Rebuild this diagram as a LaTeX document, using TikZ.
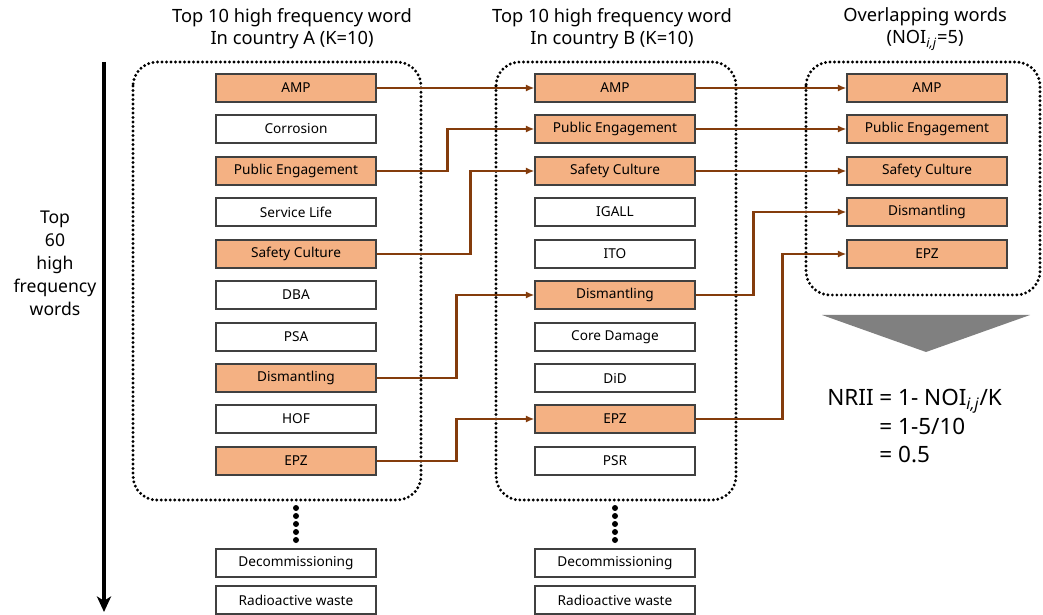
\documentclass[tikz,border=0pt]{standalone}
\usepackage{fontspec}
\setmainfont{Noto Sans}
\usetikzlibrary{arrows.meta,positioning}
\definecolor{wordfill}{HTML}{F4B183}
\definecolor{linkbrown}{HTML}{843C0C}
\definecolor{boxline}{HTML}{404040}
\tikzset{
    word/.style={draw=boxline, line width=0.8pt, minimum width=4cm, minimum height=0.7cm,
        inner sep=0pt, font=\fontsize{9.7}{10}\selectfont},
    hit/.style={word, fill=wordfill},
    miss/.style={word, fill=white},
    group/.style={draw=black, line width=2.3pt, line cap=round, dash pattern=on 0pt off 3.2pt,
        rounded corners=0.6cm},
    link/.style={draw=linkbrown, line width=1.8pt, -{Latex[length=6pt,width=5pt]}},
    title/.style={align=center, font=\fontsize{13}{15.5}\selectfont},
}

\begin{document}
\begin{tikzpicture}[x=0.025cm,y=-0.025cm]
    \useasboundingbox (0,0) rectangle (1043,615);
    % dotted groups
    \draw[group] (133,62) rectangle (421,500);
    \draw[group] (496,62) rectangle (736,500);
    \draw[group] (806,62) rectangle (1040,295);
    % titles
    \node[title] (ta) at (292,29) {Top 10 high frequency word\\In country A (K=10)};
    \node[title] (tb) at (612,29) {Top 10 high frequency word\\In country B (K=10)};
    \node[title] (tc) at (925,29) {Overlapping words\\(NOI\textsubscript{\textit{i,j}}=5)};
    % main axis
    \draw[line width=2.2pt, -{Stealth[length=11pt,width=10pt,inset=3pt]}] (104,62) -- (104,612);
    \node[align=center, font=\fontsize{12.5}{16.3}\selectfont] (axis) at (55,263)
        {Top\\60\\high\\frequency\\words};
    % country A
    \node[hit]  (a1)  at (296,88)  {AMP};
    \node[miss] (a2)  at (296,129) {Corrosion};
    \node[hit]  (a3)  at (296,171) {Public Engagement};
    \node[miss] (a4)  at (296,212) {Service Life};
    \node[hit]  (a5)  at (296,254) {Safety Culture};
    \node[miss] (a6)  at (296,295) {DBA};
    \node[miss] (a7)  at (296,337) {PSA};
    \node[hit]  (a8)  at (296,378) {Dismantling};
    \node[miss] (a9)  at (296,419) {HOF};
    \node[hit]  (a10) at (296,461) {EPZ};
    \node[miss] (a11) at (296,563) {Decommissioning};
    \node[miss] (a12) at (296,600) {Radioactive waste};
    % country B
    \node[hit]  (b1)  at (615,88)  {AMP};
    \node[hit]  (b2)  at (615,129) {Public Engagement};
    \node[hit]  (b3)  at (615,171) {Safety Culture};
    \node[miss] (b4)  at (615,212) {IGALL};
    \node[miss] (b5)  at (615,254) {ITO};
    \node[hit]  (b6)  at (615,295) {Dismantling};
    \node[miss] (b7)  at (615,337) {Core Damage};
    \node[miss] (b8)  at (615,378) {DiD};
    \node[hit]  (b9)  at (615,419) {EPZ};
    \node[miss] (b10) at (615,461) {PSR};
    \node[miss] (b11) at (615,563) {Decommissioning};
    \node[miss] (b12) at (615,600) {Radioactive waste};
    % overlapping
    \node[hit] (c1) at (927,88)  {AMP};
    \node[hit] (c2) at (927,129) {Public Engagement};
    \node[hit] (c3) at (927,171) {Safety Culture};
    \node[hit] (c4) at (927,212) {Dismantling};
    \node[hit] (c5) at (927,254) {EPZ};
    % more words below
    \fill (296,508) circle (3) (296,516) circle (3) (296,524) circle (3) (296,532) circle (3) (296,540) circle (3);
    \fill (615,508) circle (3) (615,516) circle (3) (615,524) circle (3) (615,532) circle (3) (615,540) circle (3);
    % links A -> B
    \draw[link] (a1.east) -- (b1.west);
    \draw[link] (a3.east) -- ++(71,0) |- (b2.west);
    \draw[link] (a5.east) -- ++(94,0) |- (b3.west);
    \draw[link] (a8.east) -- ++(80,0) |- (b6.west);
    \draw[link] (a10.east) -- ++(80,0) |- (b9.west);
    % links B -> overlap
    \draw[link] (b1.east) -- (c1.west);
    \draw[link] (b2.east) -- (c2.west);
    \draw[link] (b3.east) -- (c3.west);
    \draw[link] (b6.east) -- ++(58,0) |- (c4.west);
    \draw[link] (b9.east) -- ++(87,0) |- (c5.west);
    % result
    \fill[black!50] (822,315) -- (1030,315) -- (926,352) -- cycle;
    \node[anchor=north west, font=\fontsize{16}{20}\selectfont, inner sep=0pt] (nrii) at (827,386)
        {\begin{tabular}{@{}r@{ }l@{}}NRII & = 1- NOI\textsubscript{\textit{i,j}}/K\\ & = 1-5/10\\ & = 0.5\end{tabular}};
\end{tikzpicture}
\end{document}
